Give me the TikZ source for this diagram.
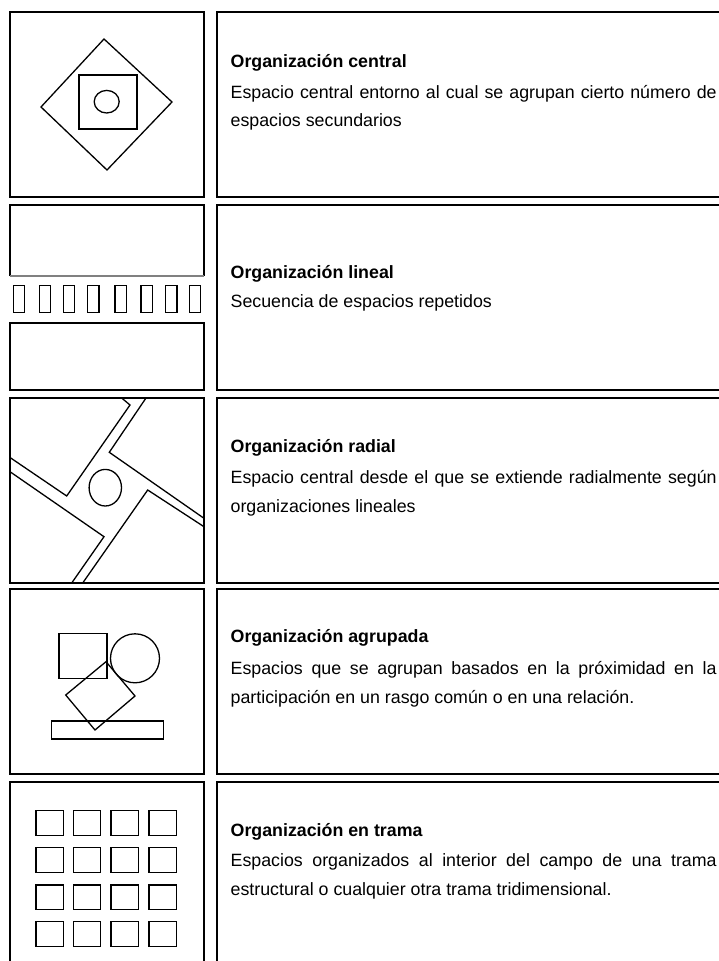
\documentclass[tikz,border=0pt]{standalone}
\usepackage{fontspec}
\setmainfont{Liberation Sans}
\begin{document}
\begin{tikzpicture}[x=1pt,y=-1pt,line width=1.3pt,line join=miter,
  shp/.style={draw,line width=1.3pt},
  ttl/.style={anchor=base west,inner sep=0pt,font=\fontsize{17.8}{20}\selectfont\bfseries},
  bdy/.style={anchor=base west,inner sep=0pt,font=\fontsize{17.8}{20}\selectfont}]
\useasboundingbox (0,0) rectangle (718,961);
% ---------- right panels (open on the right) ----------
\draw[shp] (725,12) -- (217,12) -- (217,197) -- (725,197);
\draw[shp] (725,205) -- (217,205) -- (217,390) -- (725,390);
\draw[shp] (725,398) -- (217,398) -- (217,583) -- (725,583);
\draw[shp] (725,589) -- (217,589) -- (217,774) -- (725,774);
\draw[shp] (725,782) -- (217,782) -- (217,970);
% ---------- row 1: central ----------
\draw[shp] (10,12) rectangle (204,197);
\draw[shp] (104,39) -- (172,102) -- (107,170) -- (41,107) -- cycle;
\draw[shp] (79,75) rectangle (137,129);
\draw[shp] (106.7,101.7) ellipse [x radius=12.5,y radius=11.3];
% ---------- row 2: lineal ----------
\draw[shp] (10,276) -- (10,205) -- (204,205) -- (204,276);
\draw[shp,gray] (10,276) -- (204,276);
\draw[shp] (10,323) rectangle (204,390);
\draw[shp] (204,323) -- (205,323);
\foreach \xx in {13.3,39.3,63.3,87.7,115,141,165.7,189.3}
  \draw[shp] (\xx,285.7) rectangle ++(11.3,27);
% ---------- row 3: radial ----------
\draw[shp] (10,398) rectangle (204,583);
\draw[shp] (121.7,398) -- (130,405) -- (66.7,496) -- (10,457.5);
\draw[shp] (10,471.7) -- (104,536.7) -- (71.7,583);
\draw[shp] (82.7,583) -- (147.7,490) -- (204,526.7);
\draw[shp] (204,518.3) -- (109.3,452.3) -- (146,398);
\draw[shp] (105.3,487.7) ellipse [x radius=16.2,y radius=18.3];
% ---------- row 4: agrupada ----------
\draw[shp] (10,589) rectangle (204,774);
\draw[shp] (59,633.3) rectangle (107,678.3);
\draw[shp] (135,658.3) circle [radius=24.5];
\draw[shp] (106,661.7) -- (135,696) -- (95,730) -- (65.7,695) -- cycle;
\draw[shp] (51.7,721) rectangle (163.3,739);
% ---------- row 5: trama ----------
\draw[shp] (10,970) -- (10,782) -- (204,782) -- (204,970);
\foreach \xx in {36,73.5,111,149}
  \foreach \yy in {810.7,847.7,885,921.7}
    \draw[shp] (\xx,\yy) rectangle ++(27.3,24.5);
% ---------- texts ----------
\node[ttl] (t1) at (230,67) {Organización central};
\node[bdy] (b1a) at (230,98) {\makebox[486pt][s]{Espacio central entorno al cual se agrupan cierto número de}};
\node[bdy] (b1b) at (230,126) {espacios secundarios};
\node[ttl] (t2) at (230,278) {Organización lineal};
\node[bdy] (b2a) at (230,307) {Secuencia de espacios repetidos};
\node[ttl] (t3) at (230,452) {Organización radial};
\node[bdy] (b3a) at (230,483) {\makebox[486pt][s]{Espacio central desde el que se extiende radialmente según}};
\node[bdy] (b3b) at (230,512) {organizaciones lineales};
\node[ttl] (t4) at (230,642) {Organización agrupada};
\node[bdy] (b4a) at (230,674) {\makebox[486pt][s]{Espacios que se agrupan basados en la próximidad en la}};
\node[bdy] (b4b) at (230,703) {participación en un rasgo común o en una relación.};
\node[ttl] (t5) at (230,836) {Organización en trama};
\node[bdy] (b5a) at (230,866) {\makebox[486pt][s]{Espacios organizados al interior del campo de una trama}};
\node[bdy] (b5b) at (230,895) {estructural o cualquier otra trama tridimensional.};
\end{tikzpicture}
\end{document}
